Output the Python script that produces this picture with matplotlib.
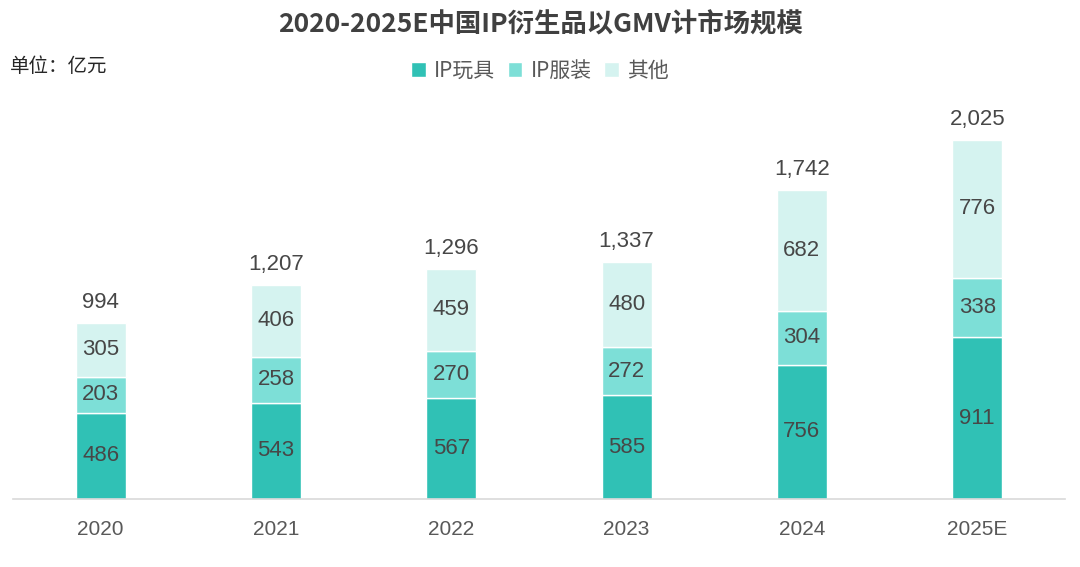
import matplotlib
matplotlib.use('Agg')
import matplotlib.pyplot as plt
import numpy as np

plt.rcParams['font.family'] = ['Liberation Sans', 'Noto Sans CJK SC', 'DejaVu Sans']

years = ['2020', '2021', '2022', '2023', '2024', '2025E']
toys = [486, 543, 567, 585, 756, 911]
apparel = [203, 258, 270, 272, 304, 338]
others = [305, 406, 459, 480, 682, 776]
totals = ['994', '1,207', '1,296', '1,337', '1,742', '2,025']
series_names = ['IP玩具', 'IP服装', '其他']
colors = ['#30C1B5', '#7DDFD7', '#D5F3F0']

fig = plt.figure(figsize=(10.8, 5.67), dpi=100)
ax = fig.add_axes([0.012, 1 - 499 / 567, 0.974, 399 / 567])

x = np.arange(len(years))
w = 0.285
bottom = np.zeros(len(years))
for vals, c, name in zip([toys, apparel, others], colors, series_names):
    ax.bar(x, vals, w, bottom=bottom, color=c, edgecolor='white',
           linewidth=1, label=name)
    for xi, b, v in zip(x, bottom, vals):
        ax.text(xi, b + v / 2, str(v), ha='center', va='center',
                fontsize=16, color='#474747')
    bottom += np.array(vals)

for xi, top, t in zip(x, bottom, totals):
    ax.text(xi, top + 55, t, ha='center', va='bottom', fontsize=16, color='#474747')

ax.set_xlim(-0.5, 5.5)
ax.set_ylim(0, 2250)
ax.set_xticks(x)
ax.set_xticklabels(years, fontsize=15, color='#595959')
ax.tick_params(axis='x', length=0, pad=15)
ax.set_yticks([])
for s in ['top', 'right', 'left']:
    ax.spines[s].set_visible(False)
ax.spines['bottom'].set_color('#D9D9D9')
ax.spines['bottom'].set_linewidth(1.2)

fig.text(0.5, 1 - 25 / 567, '2020-2025E中国IP衍生品以GMV计市场规模', ha='center',
         va='center', fontsize=19, fontweight='bold', color='#404040',
         family=['Noto Sans CJK SC', 'DejaVu Sans'])
fig.text(0.009, 1 - 67 / 567, '单位：亿元', ha='left', va='center', fontsize=14,
         color='#262626', family=['Noto Sans CJK SC', 'DejaVu Sans'])

leg = fig.legend(loc='center', bbox_to_anchor=(0.5, 1 - 71 / 567), ncol=3,
                 frameon=False, handlelength=0.7, handleheight=0.7,
                 handletextpad=0.4, columnspacing=0.6,
                 prop={'family': ['Noto Sans CJK SC', 'DejaVu Sans'], 'size': 15})
for t in leg.get_texts():
    t.set_color('#595959')

fig.savefig('out.png', dpi=100)
